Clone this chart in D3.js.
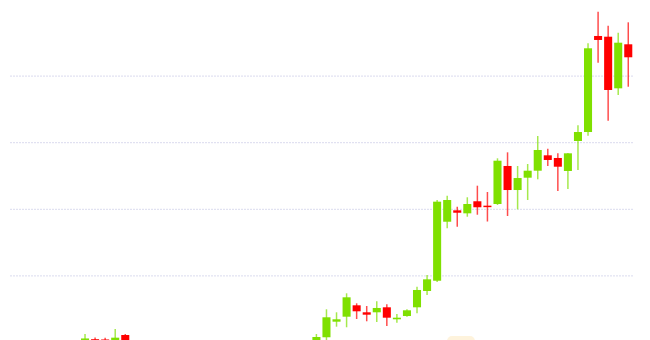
<!DOCTYPE html>
<html>
<head>
<meta charset="utf-8">
<script src="https://cdnjs.cloudflare.com/ajax/libs/d3/7.8.5/d3.min.js"></script>
<style>
	html, body { margin: 0; padding: 0; background: #fff; }
	#chart { width: 650px; height: 340px; overflow: hidden; }
	.grid line { stroke: #dadbee; stroke-dasharray: 2,1; }
	.grid .domain { display: none; }
	.grid text { display: none; }
</style>
</head>
<body>
<div id="chart"></div>
<script>
'use strict';

// daily OHLC (candles 5..22 sit below the visible area)
var opens = [1038, 1042, 1038, 1000, 1105,
	930, 940, 905, 880, 860, 835, 810, 790, 770, 790, 760, 735, 715, 745, 770, 810, 860, 910,
	1015, 1071, 1305, 1380, 1551, 1446, 1446, 1521, 1341, 1390, 1521, 1766, 1920, 2806, 2977, 2932,
	3113, 3047, 3072, 3643, 3282, 3467, 3572, 3803, 3763, 3568, 4018, 4153, 5595, 5584, 4809, 5470];
var closes = [1053, 1030, 1028, 1065, 955,
	940, 905, 880, 860, 835, 810, 790, 770, 790, 760, 735, 715, 745, 770, 810, 860, 910, 960,
	1075, 1371, 1341, 1671, 1461, 1410, 1511, 1365, 1365, 1476, 1781, 1941, 3107, 3132, 2941, 3072,
	3023, 3035, 3722, 3282, 3462, 3572, 3883, 3733, 3632, 3833, 4153, 5410, 5535, 4784, 5494, 5275];
var highs = [1120, 1068, 1062, 1195, 1120,
	955, 950, 915, 895, 870, 845, 825, 800, 800, 795, 770, 745, 755, 780, 820, 875, 925, 975,
	1120, 1491, 1446, 1731, 1581, 1541, 1611, 1566, 1420, 1491, 1830, 2006, 3132, 3197, 3032, 3173,
	3347, 3252, 3758, 3848, 3643, 3673, 4093, 3902, 3833, 3838, 4254, 5485, 5959, 5749, 5644, 5800];
var lows = [970, 985, 990, 950, 930,
	910, 895, 870, 850, 825, 800, 780, 760, 760, 750, 725, 705, 710, 735, 760, 800, 850, 900,
	985, 1030, 1230, 1221, 1345, 1311, 1300, 1240, 1290, 1380, 1431, 1706, 1901, 2707, 2731, 2881,
	2911, 2809, 3057, 2892, 2992, 3132, 3443, 3643, 3267, 3297, 3583, 4098, 5194, 4323, 4709, 4833];

// horizontal grid levels
var gridTicks = [2000, 3000, 4000, 5000];

var width = 650,
	height = 340;

var candles = opens.map(function(o, i) {
	return {i: i, open: o, close: closes[i], high: highs[i], low: lows[i]};
});

var svg = d3.select('#chart').append('svg')
	.attr('width', width)
	.attr('height', height);

var x = d3.scaleBand()
	.domain(candles.map(function(d) { return d.i; }))
	.range([80, 633.3])
	.paddingInner(0.2)
	.paddingOuter(0.1);

var y = d3.scaleLinear()
	.domain([1000, 5000])
	.range([342, 75.6]);

// dashed grid, no labels
svg.append('g')
	.attr('class', 'grid')
	.attr('transform', 'translate(633,0)')
	.call(d3.axisLeft(y).tickValues(gridTicks).tickSize(623).tickFormat(''));

var up = '#7fe000',
	down = '#ff0000';

function colour(d) { return d.close >= d.open ? up : down; }

var candle = svg.append('g').selectAll('g.candle')
	.data(candles)
	.enter().append('g')
	.attr('class', 'candle');

// wicks
candle.append('line')
	.attr('x1', function(d) { return x(d.i) + x.bandwidth() / 2; })
	.attr('x2', function(d) { return x(d.i) + x.bandwidth() / 2; })
	.attr('y1', function(d) { return y(d.high); })
	.attr('y2', function(d) { return y(d.low); })
	.attr('stroke', colour)
	.attr('stroke-opacity', 0.7)
	.attr('stroke-width', 1.5);

// bodies, at least a pixel tall so dojis still show
candle.append('rect')
	.attr('x', function(d) { return x(d.i); })
	.attr('width', x.bandwidth())
	.attr('y', function(d) { return y(Math.max(d.open, d.close)); })
	.attr('height', function(d) {
		return Math.max(1.5, Math.abs(y(d.open) - y(d.close)));
	})
	.attr('fill', colour);

// faint watermark peeking in at the bottom edge
svg.append('rect')
	.attr('x', 447)
	.attr('y', 336)
	.attr('width', 28)
	.attr('height', 12)
	.attr('rx', 5)
	.attr('fill', '#fdebc4')
	.attr('opacity', 0.6);
</script>
</body>
</html>
